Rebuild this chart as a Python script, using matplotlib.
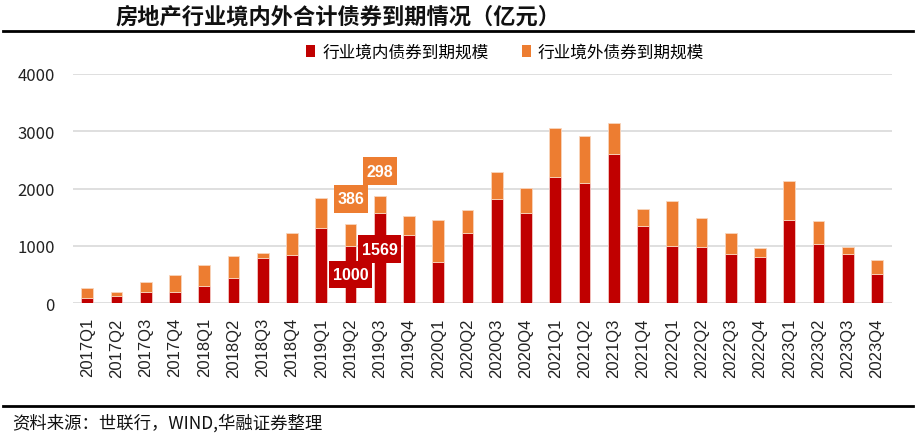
import matplotlib
matplotlib.use("Agg")
import matplotlib.pyplot as plt
import numpy as np
from matplotlib.lines import Line2D
from matplotlib.patches import Patch
from matplotlib.path import Path

plt.rcParams['font.family'] = ['Noto Sans CJK SC', 'DejaVu Sans']

quarters = ["2017Q1", "2017Q2", "2017Q3", "2017Q4", "2018Q1", "2018Q2", "2018Q3", "2018Q4",
            "2019Q1", "2019Q2", "2019Q3", "2019Q4", "2020Q1", "2020Q2", "2020Q3", "2020Q4",
            "2021Q1", "2021Q2", "2021Q3", "2021Q4", "2022Q1", "2022Q2", "2022Q3", "2022Q4",
            "2023Q1", "2023Q2", "2023Q3", "2023Q4"]
domestic = [87, 133, 197, 197, 308, 441, 790, 848,
            1312, 1000, 1569, 1195, 719, 1225, 1823, 1573,
            2200, 2096, 2596, 1352, 1004, 986, 864, 812,
            1446, 1033, 854, 505]
overseas = [185, 58, 175, 297, 366, 384, 87, 383,
            529, 386, 298, 331, 738, 406, 459, 430,
            854, 824, 545, 285, 778, 500, 361, 151,
            679, 406, 127, 249]
yticks = [0, 1000, 2000, 3000, 4000]

title = "房地产行业境内外合计债券到期情况（亿元）"
legend_labels = ["行业境内债券到期规模", "行业境外债券到期规模"]
source = "资料来源：世联行，WIND,华融证券整理"

c_dom = "#C00000"
c_ovs = "#ED7D31"

W, H = 916, 435
fig = plt.figure(figsize=(W / 100, H / 100), dpi=100)
ax = fig.add_axes([72.7 / W, 1 - 304.3 / H, (891.7 - 72.7) / W, (304.3 - 74.7) / H])

x = np.arange(len(quarters))
ax.bar(x, domestic, width=0.4, color=c_dom, edgecolor="#f4c7c3", linewidth=0.6, zorder=3)
ax.bar(x, overseas, width=0.4, bottom=domestic, color=c_ovs, edgecolor="#f8d5bd", linewidth=0.6, zorder=3)

ax.set_xlim(-0.5, len(quarters) - 0.5)
ax.set_ylim(0, 4000)
ax.set_yticks(yticks)
ax.set_yticklabels([str(v) for v in yticks], fontsize=12, color="#222222")
ax.set_xticks(x)
ax.set_xticklabels(quarters, rotation=90, fontsize=12, family=["Liberation Sans", "DejaVu Sans"], color="#222222")
ax.tick_params(axis="both", length=0)
ax.tick_params(axis="x", pad=10)
ax.tick_params(axis="y", pad=13)
for s in ax.spines.values():
    s.set_visible(False)
ax.grid(axis="y", color="#d9d9d9", linewidth=1.2, zorder=0)
ax.set_axisbelow(True)


def padbox(x0, y0, width, height, mutation_size):
    px = 0.22 * mutation_size
    py = 0.40 * mutation_size
    return Path([(x0 - px, y0 - py), (x0 + width + px, y0 - py), (x0 + width + px, y0 + height + py),
                 (x0 - px, y0 + height + py), (x0 - px, y0 - py)], closed=True)


# data labels
idx_q2 = quarters.index("2019Q2")
idx_q3 = quarters.index("2019Q3")
lab_font = dict(fontsize=11.5, fontweight="bold", color="white", family=["Liberation Sans", "DejaVu Sans"])
ax.annotate(str(domestic[idx_q2]), xy=(idx_q2, domestic[idx_q2] / 2), xytext=(0, 0), textcoords="offset pixels",
            ha="center", va="center", bbox=dict(boxstyle=padbox, fc=c_dom, ec="none"), zorder=5, **lab_font)
ax.annotate(str(domestic[idx_q3]), xy=(idx_q3, domestic[idx_q3] / 2), xytext=(0, 9), textcoords="offset pixels",
            ha="center", va="center", bbox=dict(boxstyle=padbox, fc=c_dom, ec="none"), zorder=5, **lab_font)
ax.annotate(str(overseas[idx_q2]), xy=(idx_q2, domestic[idx_q2] + overseas[idx_q2]), xytext=(0, 25),
            textcoords="offset pixels", ha="center", va="center",
            bbox=dict(boxstyle=padbox, fc=c_ovs, ec="none"), zorder=5, **lab_font)
ax.annotate(str(overseas[idx_q3]), xy=(idx_q3, domestic[idx_q3] + overseas[idx_q3]), xytext=(0, 25),
            textcoords="offset pixels", ha="center", va="center",
            bbox=dict(boxstyle=padbox, fc=c_ovs, ec="none"), zorder=5, **lab_font)

# legend
handles = [Patch(facecolor=c_dom, edgecolor="none"), Patch(facecolor=c_ovs, edgecolor="none")]
fig.legend(handles, legend_labels, loc="center", bbox_to_anchor=(505 / W, 1 - 53 / H), ncol=2,
           frameon=False, fontsize=12, handlelength=0.55, handleheight=0.75, handletextpad=0.4,
           columnspacing=2.0)

# title and rules
fig.text(115 / W, 1 - 17 / H, title, fontsize=16, fontweight="bold", ha="left", va="center", color="#111111")
fig.add_artist(Line2D([3 / W, 913 / W], [1 - 32 / H, 1 - 32 / H], color="black", linewidth=2))
fig.add_artist(Line2D([3 / W, 913 / W], [1 - 407 / H, 1 - 407 / H], color="black", linewidth=2))
fig.text(12 / W, 1 - 423 / H, source, fontsize=12.5, ha="left", va="center", color="#111111")

fig.savefig("out.png", dpi=100)
